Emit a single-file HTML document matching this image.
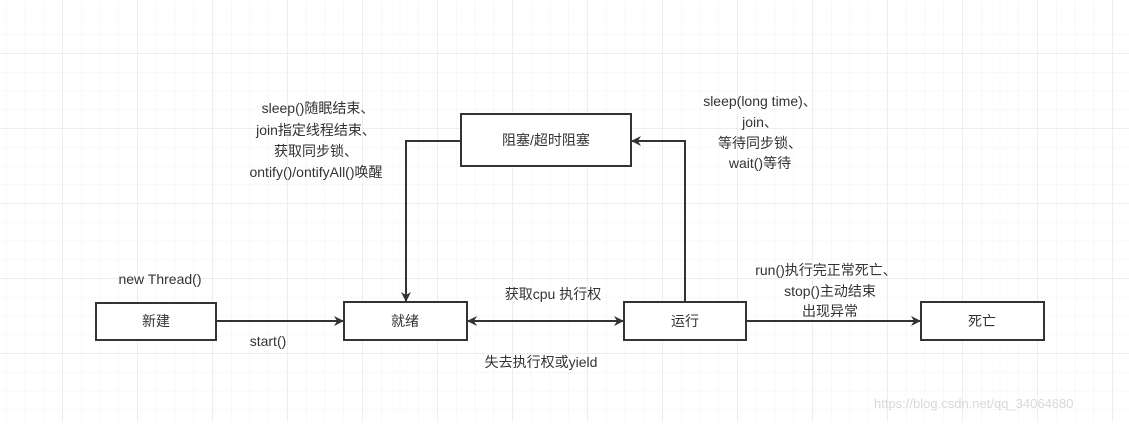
<!DOCTYPE html>
<html><head><meta charset="utf-8"><style>
body{margin:0;width:1129px;height:422px;overflow:hidden;background:#fff;}
svg text{font-family:"Liberation Sans","Noto Sans CJK SC",sans-serif;font-size:14px;fill:#333;}
</style></head><body>
<svg width="1129" height="422" xmlns="http://www.w3.org/2000/svg">
<defs>
<pattern id="minor" x="6" y="-3" width="18.75" height="18.75" patternUnits="userSpaceOnUse">
<path d="M0 0H18.75M0 0V18.75" stroke="#f0f0f0" stroke-width="1" fill="none"/></pattern>
<pattern id="major" x="62" y="53" width="75" height="75" patternUnits="userSpaceOnUse">
<path d="M0 0H75M0 0V75" stroke="#e3e3e3" stroke-width="1" fill="none"/></pattern>
<marker id="ar" markerWidth="10" markerHeight="10" refX="9" refY="5" orient="auto" markerUnits="userSpaceOnUse">
<path d="M0 0L10 5L0 10L3 5Z" fill="#333"/></marker>
<marker id="al" markerWidth="10" markerHeight="10" refX="1" refY="5" orient="auto" markerUnits="userSpaceOnUse">
<path d="M10 0L0 5L10 10L7 5Z" fill="#333"/></marker>
</defs>
<rect width="1129" height="422" fill="url(#minor)"/>
<rect width="1129" height="422" fill="url(#major)"/>
<g stroke="#333" stroke-width="2" fill="#fff">
<rect x="96" y="303" width="120" height="37"/>
<rect x="344" y="302" width="123" height="38"/>
<rect x="624" y="302" width="122" height="38"/>
<rect x="921" y="302" width="123" height="38"/>
<rect x="461" y="114" width="170" height="52"/>
</g>
<g stroke="#333" stroke-width="2" fill="none">
<line x1="216" y1="321" x2="343" y2="321" marker-end="url(#ar)"/>
<line x1="468" y1="321" x2="623" y2="321" marker-end="url(#ar)" marker-start="url(#al)"/>
<line x1="746" y1="321" x2="920" y2="321" marker-end="url(#ar)"/>
<polyline points="461,141 406,141 406,301" marker-end="url(#ar)"/>
<polyline points="685,302 685,141 632,141" marker-end="url(#ar)"/>
</g>
<g text-anchor="middle">
<text x="156" y="326">新建</text>
<text x="405" y="326">就绪</text>
<text x="685" y="326">运行</text>
<text x="982" y="326">死亡</text>
<text x="546" y="145">阻塞/超时阻塞</text>
<text x="160" y="284">new Thread()</text>
<text x="268" y="346">start()</text>
<text x="553" y="299">获取cpu 执行权</text>
<text x="541" y="367">失去执行权或yield</text>
<text x="318" y="113">sleep()随眠结束、</text>
<text x="316" y="135">join指定线程结束、</text>
<text x="316" y="156">获取同步锁、</text>
<text x="316" y="177">ontify()/ontifyAll()唤醒</text>
<text x="760" y="106">sleep(long time)、</text>
<text x="760" y="127">join、</text>
<text x="760" y="148">等待同步锁、</text>
<text x="760" y="168">wait()等待</text>
<text x="826" y="275">run()执行完正常死亡、</text>
<text x="830" y="296">stop()主动结束</text>
<text x="830" y="316">出现异常</text>
</g>
<text x="874" y="408" style="fill:#d8d8d8;font-size:13px">https://blog.csdn.net/qq_34064680</text>
</svg>
</body></html>
